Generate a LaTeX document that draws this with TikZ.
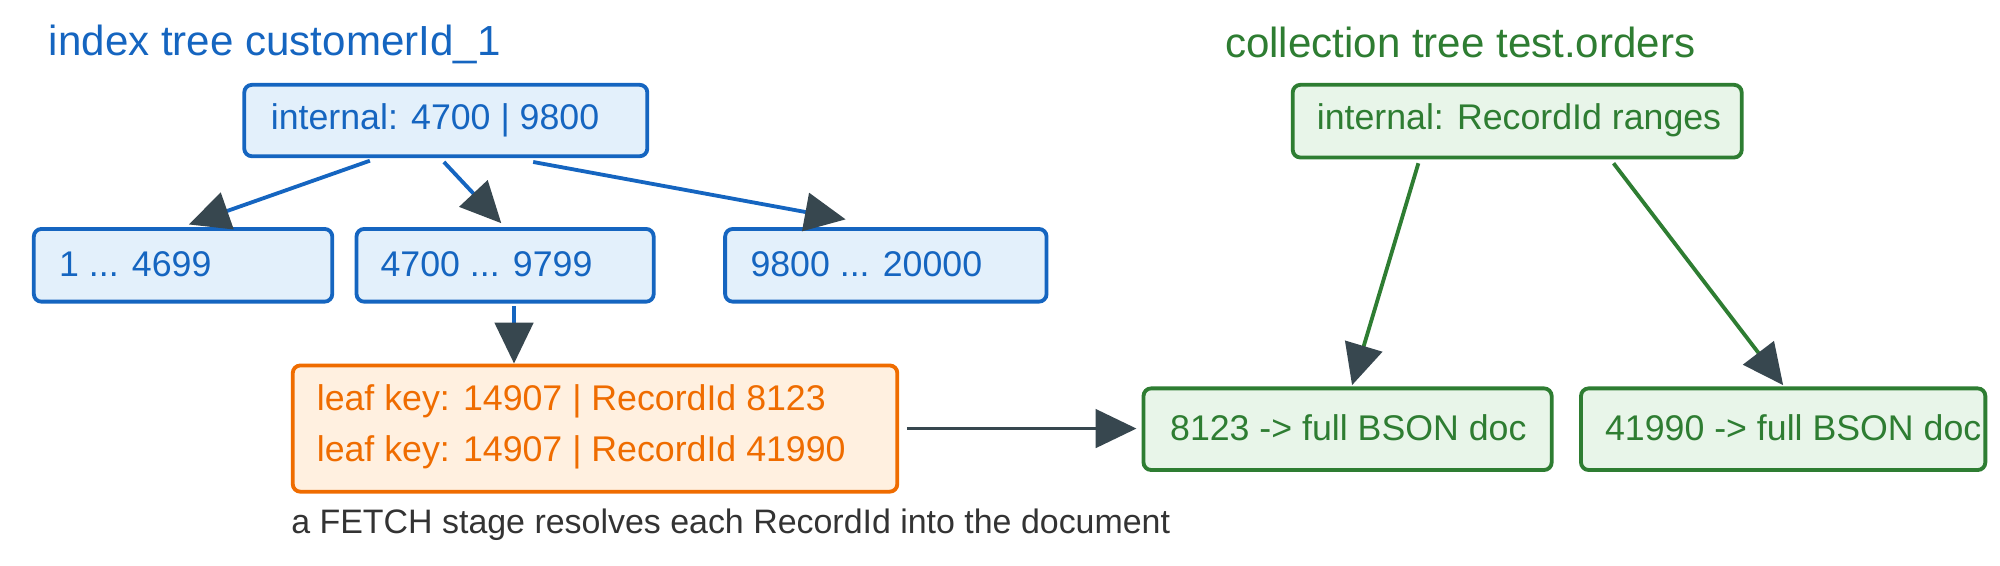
\documentclass[tikz,border=0pt]{standalone}
\usepackage{fontspec}
\setmainfont{Liberation Sans}
\usetikzlibrary{arrows.meta}
\definecolor{bl}{HTML}{1565C0}
\definecolor{blf}{HTML}{E3F0FB}
\definecolor{gr}{HTML}{2E7D32}
\definecolor{grf}{HTML}{E8F5E9}
\definecolor{orc}{HTML}{EF6C00}
\definecolor{orf}{HTML}{FFF0E0}
\definecolor{ah}{HTML}{37474F}
\definecolor{cap}{HTML}{333333}
\begin{document}
\begin{tikzpicture}[x=0.5pt,y=-0.5pt,
 box/.style={draw,line width=1.5pt,rounded corners=3pt,anchor=north west,inner sep=0pt},
 bbox/.style={box,draw=bl,fill=blf},
 gbox/.style={box,draw=gr,fill=grf},
 txt/.style={anchor=west,inner sep=0pt,font=\fontsize{14}{16}\selectfont},
 arr/.style={line width=1.5pt,-{Triangle[length=16pt,width=15pt,color=ah]}}]
\useasboundingbox (0,0) rectangle (1568,443);
\node[txt,text=bl,font=\fontsize{16.5}{19}\selectfont] (t1) at (38,35) {index tree customerId\_1};
\node[txt,text=gr,font=\fontsize{16.5}{19}\selectfont] (t2) at (960,33) {collection tree test.orders};
\node[bbox,minimum width=158pt,minimum height=28pt] (in) at (190,65) {};
\node[txt,text=bl] at (212,94) {internal: 4700 | 9800};
\node[bbox,minimum width=117pt,minimum height=28.5pt] (l1) at (25,178) {};
\node[txt,text=bl] at (46,207) {1 ... 4699};
\node[bbox,minimum width=116.5pt,minimum height=28.5pt] (l2) at (278,178) {};
\node[txt,text=bl] at (298,207) {4700 ... 9799};
\node[bbox,minimum width=126pt,minimum height=28.5pt] (l3) at (567,178) {};
\node[txt,text=bl] at (588,207) {9800 ... 20000};
\node[box,draw=orc,fill=orf,minimum width=237pt,minimum height=49.5pt] (or) at (228,285) {};
\node[txt,text=orc] at (248,315) {leaf key: 14907 | RecordId 8123};
\node[txt,text=orc] at (248,355) {leaf key: 14907 | RecordId 41990};
\node[txt,text=cap,font=\fontsize{13.3}{15}\selectfont] (c) at (228,411) {a FETCH stage resolves each RecordId into the document};
\node[gbox,minimum width=176pt,minimum height=28.5pt] (gi) at (1012,65) {};
\node[txt,text=gr] at (1032,94) {internal: RecordId ranges};
\node[gbox,minimum width=160pt,minimum height=32pt] (g1) at (895,303) {};
\node[txt,text=gr] at (917,335) {8123 -> full BSON doc};
\node[gbox,minimum width=158.5pt,minimum height=32pt] (g2) at (1238,303) {};
\node[txt,text=gr] at (1258,335) {41990 -> full BSON doc};
\draw[arr,bl] (in.south west)++(100,2) -- ++(-142,50);
\draw[arr,bl] (in.south west)++(158,3) -- ++(45,48);
\draw[arr,bl] (in.south west)++(228,3) -- ++(245,45);
\draw[arr,bl] (l2.south west)++(125,2) -- (or.north west-|403,0);
\draw[arr,ah] (or.east)++(6,0) -- ++(180,0) coordinate (e);
\draw[arr,gr] (gi.south west)++(100,3) -- ++(-52,174);
\draw[arr,gr] (gi.south west)++(253,3) -- ++(133,174);
\end{tikzpicture}
\end{document}
